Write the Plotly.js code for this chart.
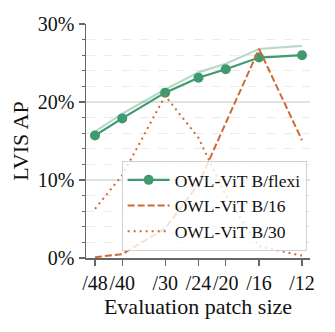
<!DOCTYPE html>
<html>
<head>
<meta charset="utf-8">
<script src="https://cdn.plot.ly/plotly-3.0.1.min.js"></script>
<style>html,body{margin:0;padding:0;background:#fff;}#chart{width:335px;height:332px;}</style>
</head>
<body>
<div id="chart"></div>
<script>
const patchSizes = [48, 40, 30, 24, 20, 16, 12];
const tickLabels = ["/48", "/40", "/30", "/24", "/20", "/16", "/12"];
const flexiAP = [15.7, 17.9, 21.2, 23.1, 24.2, 25.7, 26.0];
const flexiRefAP = [16.2, 18.5, 21.6, 23.8, 24.9, 26.8, 27.2];
const b16AP = [0.1, 0.5, 3.8, 9.5, 17.3, 26.8, 15.1];
const b30AP = [6.3, 10.6, 20.8, 15.4, 8.0, 1.5, 0.3];

const green = "#3f9a6f";
const orange = "#cf6a2e";
const font = "'Times New Roman', 'Liberation Serif', Tinos, 'DejaVu Serif', serif";

const traces = [
  {x: patchSizes, y: flexiRefAP, type: "scatter", mode: "lines", showlegend: false,
   line: {color: "rgba(63,154,111,0.38)", width: 2.2}, hoverinfo: "skip"},
  {x: patchSizes, y: flexiAP, type: "scatter", mode: "lines+markers", name: "OWL-ViT B/flexi",
   line: {color: green, width: 2.2}, marker: {color: green, size: 10}},
  {x: patchSizes, y: b16AP, type: "scatter", mode: "lines", name: "OWL-ViT B/16",
   line: {color: orange, width: 2, dash: "7px,3px"}},
  {x: patchSizes, y: b30AP, type: "scatter", mode: "lines", name: "OWL-ViT B/30",
   line: {color: orange, width: 2, dash: "2px,4px"}}
];

const layout = {
  width: 335, height: 332,
  margin: {l: 86, r: 25, t: 24, b: 74},
  paper_bgcolor: "#fff", plot_bgcolor: "#fff",
  font: {family: font, color: "#111", size: 20},
  showlegend: true,
  legend: {x: 0.985, xanchor: "right", y: 0.03, yanchor: "bottom", itemwidth: 42,
           bgcolor: "rgba(255,255,255,0.8)", bordercolor: "#d0d0d0", borderwidth: 1,
           font: {family: font, size: 17.5, color: "#111"}},
  xaxis: {
    type: "log", range: [1.7074, 1.0559],
    tickvals: patchSizes, ticktext: tickLabels, tickangle: 0,
    showgrid: false, zeroline: false,
    showline: true, linecolor: "#666", linewidth: 1.5,
    ticks: "outside", ticklen: 6, tickwidth: 1.2, tickcolor: "#666",
    tickfont: {family: font, size: 20, color: "#111"},
    title: {text: "Evaluation patch size", font: {family: font, size: 22, color: "#111"}, standoff: 6}
  },
  yaxis: {
    range: [0, 30], dtick: 10, ticksuffix: "%",
    showgrid: true, gridcolor: "#e2e2e2", gridwidth: 1.5,
    zeroline: false,
    showline: true, linecolor: "#666", linewidth: 1.5,
    ticks: "outside", ticklen: 6, tickwidth: 1.2, tickcolor: "#666",
    tickfont: {family: font, size: 20, color: "#111"},
    minor: {dtick: 2, ticks: "outside", ticklen: 3, tickwidth: 1, tickcolor: "#666",
            showgrid: true, gridcolor: "#ebebeb", griddash: "dash", gridwidth: 1},
    title: {text: "LVIS AP", font: {family: font, size: 22, color: "#111"}, standoff: 3}
  }
};

Plotly.newPlot("chart", traces, layout, {displayModeBar: false, staticPlot: true});
</script>
</body>
</html>
